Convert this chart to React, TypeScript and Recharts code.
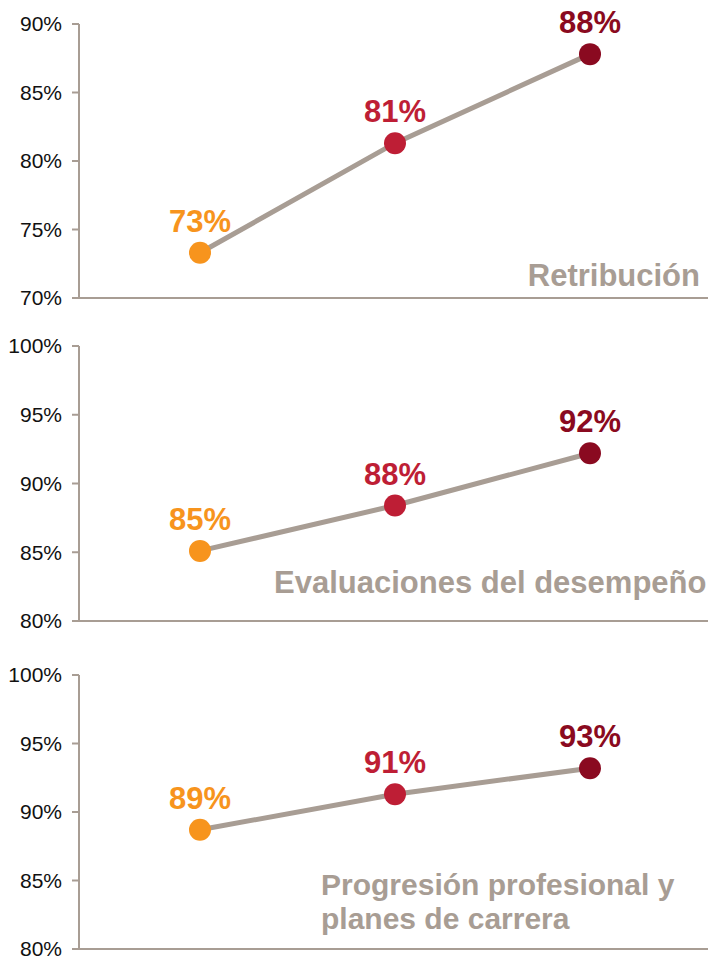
import React from 'react';
import { LineChart, Line, XAxis, YAxis, LabelList } from 'recharts';

const categories = ['Grupo 1', 'Grupo 2', 'Grupo 3'];
const retribucion = [73.3, 81.3, 87.8];
const evaluaciones = [85.1, 88.4, 92.2];
const progresion = [88.7, 91.3, 93.2];
const ticksRetribucion = [70, 75, 80, 85, 90];
const ticksOtros = [80, 85, 90, 95, 100];
const pointColors = ['#f7941d', '#be1e35', '#8a0a20'];

const GREY = '#a89d94';
const FONT = '"Liberation Sans", Arial, Helvetica, sans-serif';

function renderDot(props: any) {
    const { cx, cy, index } = props;
    return <circle key={`dot-${index}`} cx={cx} cy={cy} r={11} fill={pointColors[index]} />;
}

function renderLabel(props: any) {
    const { x, y, value, index } = props;
    return (
        <text
            x={x}
            y={y - 21}
            textAnchor="middle"
            fill={pointColors[index]}
            fontSize={31}
            fontWeight="bold"
            fontFamily={FONT}
        >
            {`${Math.round(value)}%`}
        </text>
    );
}

interface PanelProps {
    values: number[];
    ticks: number[];
    top: number;
    height: number;
    bottom: number;
}

function Panel({ values, ticks, top, height, bottom }: PanelProps) {
    const data = categories.map((c, i) => ({ name: c, value: values[i] }));
    return (
        <div style={{ position: 'absolute', left: 0, top }}>
            <LineChart width={708} height={height} data={data} margin={{ top: 24, right: 0, bottom, left: 0 }}>
                <XAxis
                    dataKey="name"
                    tick={false}
                    tickLine={false}
                    height={1}
                    padding={{ left: 121, right: 118 }}
                    axisLine={{ stroke: GREY, strokeWidth: 2 }}
                />
                <YAxis
                    width={79}
                    domain={[ticks[0], ticks[ticks.length - 1]]}
                    ticks={ticks}
                    interval={0}
                    tickFormatter={(v) => `${v}%`}
                    axisLine={{ stroke: GREY, strokeWidth: 2 }}
                    tickLine={{ stroke: GREY, strokeWidth: 2 }}
                    tickSize={7}
                    tickMargin={10}
                    tick={{ fill: '#111', fontSize: 21, fontFamily: FONT }}
                />
                <Line
                    type="linear"
                    dataKey="value"
                    stroke={GREY}
                    strokeWidth={5}
                    dot={renderDot}
                    activeDot={false}
                    isAnimationActive={false}
                >
                    <LabelList dataKey="value" content={renderLabel} />
                </Line>
            </LineChart>
        </div>
    );
}

const titleStyle: React.CSSProperties = {
    position: 'absolute',
    color: GREY,
    fontFamily: FONT,
    fontWeight: 'bold',
    fontSize: 31,
    lineHeight: '31px',
    whiteSpace: 'nowrap',
};

export default function App() {
    return (
        <div style={{ position: 'absolute', left: 0, top: 0, width: 708, height: 959, overflow: 'hidden', background: '#fff' }}>
            <Panel values={retribucion} ticks={ticksRetribucion} top={0} height={320} bottom={21} />
            <Panel values={evaluaciones} ticks={ticksOtros} top={322} height={320} bottom={20} />
            <Panel values={progresion} ticks={ticksOtros} top={651} height={308} bottom={9} />
            <div style={{ ...titleStyle, right: 8, top: 260 }}>Retribución</div>
            <div style={{ ...titleStyle, left: 274, top: 567 }}>Evaluaciones del desempeño</div>
            <div style={{ ...titleStyle, left: 321, top: 868, fontSize: 30, lineHeight: '34px' }}>
                Progresión profesional y<br />planes de carrera
            </div>
        </div>
    );
}
